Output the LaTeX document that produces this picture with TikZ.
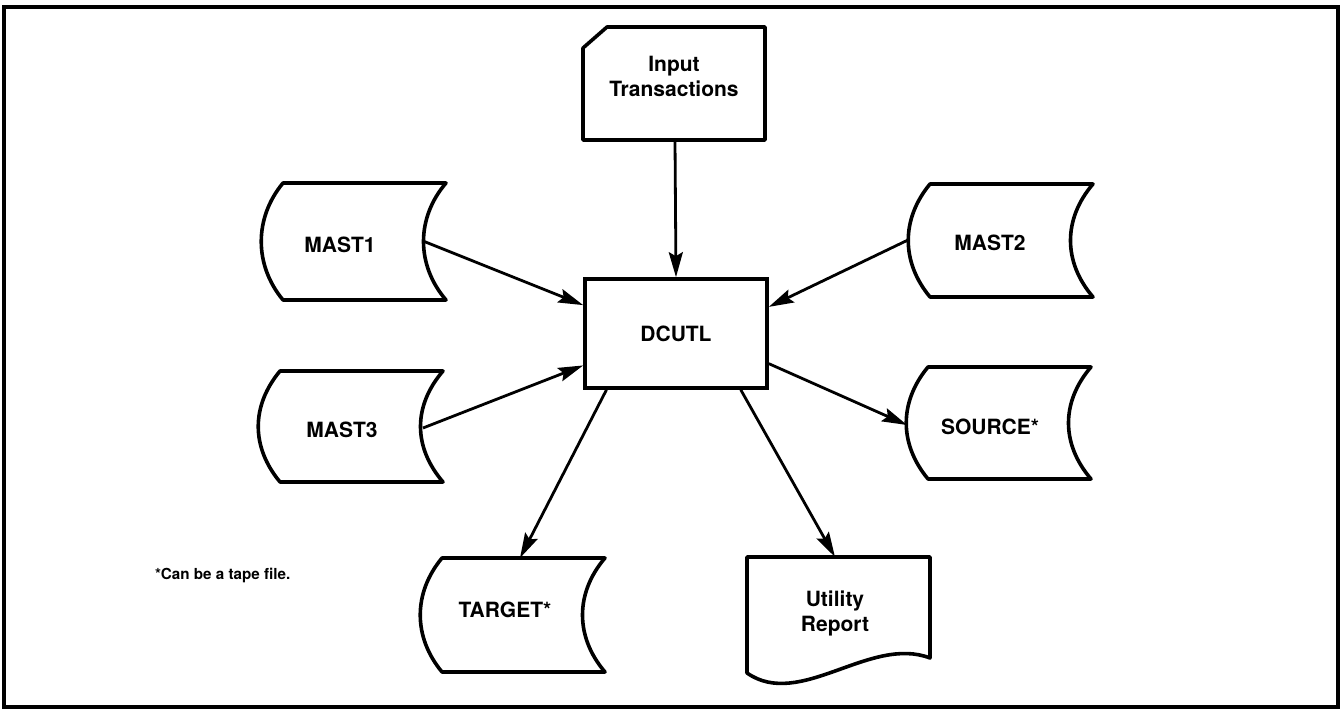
\documentclass[tikz,border=0pt]{standalone}
\usepackage{fontspec}
\setmainfont{TeX Gyre Heros}
\usetikzlibrary{arrows.meta}

\begin{document}
\begin{tikzpicture}[x=0.5pt, y=-0.5pt,
    lbl/.style={anchor=center, align=center, font=\bfseries\fontsize{10.5}{12.5}\selectfont},
    shp/.style={line width=1.8pt, line join=round},
    conn/.style={line width=1.4pt, -{Stealth[length=12.5pt, width=7pt, inset=2pt]}}]
    \useasboundingbox (0,0) rectangle (1341,710);
    \draw[line width=2pt] (4,7) rectangle (1338,707);

    % Programme central
    \node[draw, line width=1.8pt, minimum width=91pt, minimum height=54.5pt, lbl] (dcutl) at (676,333.5) {DCUTL};

    % Carte d'entree
    \draw[shp] (583,48) -- (607,27) -- (765,27) -- (765,140) -- (583,140) -- cycle;
    \node[lbl] (input) at (674,76) {Input\\Transactions};
    \coordinate (input-s) at (675,140);

    % Fichiers disque
    \foreach \xl/\yt/\yb in {283/183/300, 280/371/482, 930/184/297, 928/367/479, 442/558/672}
        \draw[shp] (\xl,\yt) -- ({\xl+163},\yt)
            .. controls ({\xl+133},{\yt+35}) and ({\xl+133},{\yb-35}) .. ({\xl+163},\yb)
            -- (\xl,\yb)
            .. controls ({\xl-29},{\yb-35}) and ({\xl-29},{\yt+35}) .. (\xl,\yt) -- cycle;
    \node[lbl] (mast1) at (340,245) {MAST1};
    \node[lbl] (mast3) at (342,430) {MAST3};
    \node[lbl] (mast2) at (990,243) {MAST2};
    \node[lbl] (source) at (990,427) {SOURCE*};
    \node[lbl] (target) at (505,610) {TARGET*};
    \coordinate (mast1-e) at (423,241);
    \coordinate (mast3-e) at (423,428);
    \coordinate (mast2-w) at (908,240);
    \coordinate (source-w) at (907,425);
    \coordinate (target-n) at (520,558);

    % Etat imprime
    \draw[shp] (747,673) -- (747,557) -- (930,557) -- (930,658)
        .. controls (870,635) and (800,710) .. (747,673) -- cycle;
    \node[lbl] (report) at (835,613.5) {Utility\\Report};
    \coordinate (report-n) at (835,557);

    % Fleches
    \draw[conn] (input-s) -- (dcutl.north);
    \draw[conn] (mast1-e) -- (dcutl.163.2);
    \draw[conn] (mast3-e) -- (dcutl.199.1);
    \draw[conn] (mast2-w) -- (dcutl.16.8);
    \draw[conn] (dcutl.342) -- (source-w);
    \draw[conn] (dcutl.219.5) -- (target-n);
    \draw[conn] (dcutl.319.6) -- (report-n);

    \node[anchor=west, font=\bfseries\fontsize{7.6}{9}\selectfont] (note) at (148,575) {*Can be a tape file.};
\end{tikzpicture}
\end{document}
